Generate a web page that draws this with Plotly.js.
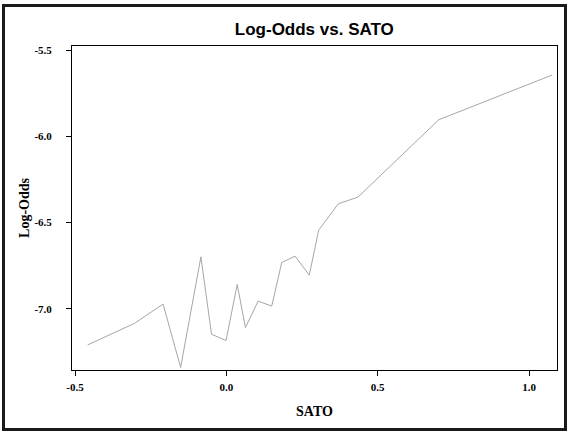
<!DOCTYPE html>
<html>
<head>
<meta charset="utf-8">
<script src="https://cdn.plot.ly/plotly-3.0.1.min.js"></script>
<style>
  html, body { margin: 0; padding: 0; background: #fff; }
  #wrap { position: relative; width: 569px; height: 432px; }
  #chart { width: 569px; height: 432px; }
  #frame { position: absolute; left: 2px; top: 4px; width: 565px; height: 427px;
           border: 3px solid #1a1a1a; box-sizing: border-box; pointer-events: none; }
</style>
</head>
<body>
<div id="wrap">
  <div id="chart"></div>
  <div id="frame"></div>
</div>
<script>
const sato = [-0.458, -0.303, -0.209, -0.151, -0.084, -0.049, -0.001, 0.036, 0.063, 0.105,
              0.150, 0.183, 0.227, 0.274, 0.305, 0.370, 0.435, 0.702, 1.077];
const logOdds = [-7.210, -7.085, -6.973, -7.341, -6.699, -7.148, -7.185, -6.859, -7.110, -6.956,
                 -6.985, -6.732, -6.695, -6.805, -6.545, -6.391, -6.352, -5.903, -5.643];
const xTicks = [-0.5, 0.0, 0.5, 1.0];
const xTickText = ['-0.5', '0.0', '0.5', '1.0'];
const yTicks = [-7.0, -6.5, -6.0, -5.5];
const yTickText = ['-7.0', '-6.5', '-6.0', '-5.5'];

const serif = '"Liberation Serif", "Times New Roman", serif';
const bold = arr => arr.map(t => '<b>' + t + '</b>');
const trace = {
  x: sato, y: logOdds, type: 'scatter', mode: 'lines',
  line: { color: '#a6a6a6', width: 1 }, hoverinfo: 'skip'
};
const layout = {
  width: 569, height: 432,
  margin: { l: 72, r: 12, t: 46, b: 62 },
  paper_bgcolor: '#ffffff', plot_bgcolor: '#ffffff',
  showlegend: false,
  title: { text: '<b>Log-Odds vs. SATO</b>', x: 0.5524, xanchor: 'center', y: 0.933, yanchor: 'middle',
           font: { family: '"Liberation Sans", Arial, sans-serif', size: 17, color: '#000' } },
  xaxis: {
    range: [-0.5099, 1.0925], tickvals: xTicks, ticktext: bold(xTickText),
    showgrid: false, zeroline: false, showline: true, mirror: true,
    linecolor: '#000', linewidth: 1, ticks: 'outside', ticklen: 5, tickcolor: '#000', tickwidth: 1,
    ticklabelstandoff: 2,
    tickfont: { family: serif, size: 11, color: '#000' },
    title: { text: '<b>SATO</b>', standoff: 13, font: { family: serif, size: 14, color: '#000' } },
    automargin: false
  },
  yaxis: {
    range: [-7.356, -5.475], tickvals: yTicks, ticktext: bold(yTickText),
    showgrid: false, zeroline: false, showline: true, mirror: true,
    linecolor: '#000', linewidth: 1, ticks: 'outside', ticklen: 5, tickcolor: '#000', tickwidth: 1,
    ticklabelstandoff: 12,
    tickfont: { family: serif, size: 11, color: '#000' },
    title: { text: '<b>Log-Odds</b>', standoff: 1, font: { family: serif, size: 14, color: '#000' } },
    automargin: false
  }
};
Plotly.newPlot('chart', [trace], layout, { displayModeBar: false, staticPlot: true });
</script>
</body>
</html>
